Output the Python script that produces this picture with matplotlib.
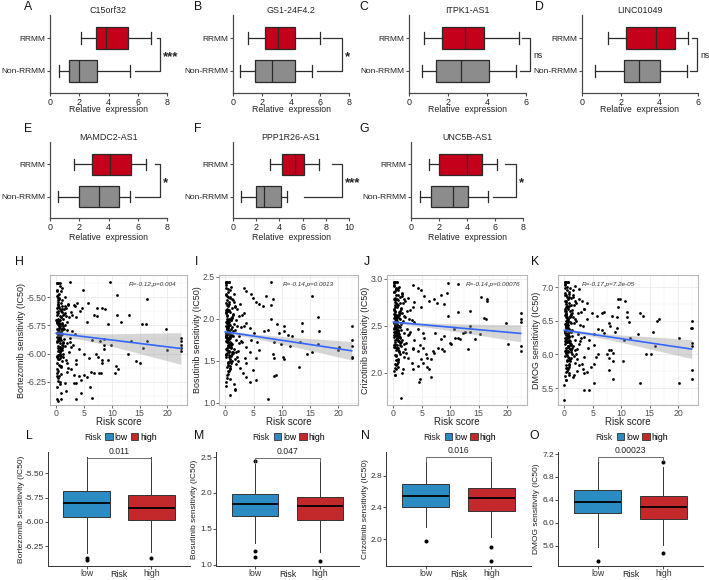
import numpy as np
import matplotlib
matplotlib.use('Agg')
import matplotlib.pyplot as plt
from matplotlib.patches import Patch
from matplotlib.ticker import MultipleLocator

plt.rcParams['font.family'] = ['Liberation Sans', 'DejaVu Sans']

# ---------------- data: panels A-G (five-number summaries) ----------------
genes = ['C15orf32', 'GS1-24F4.2', 'ITPK1-AS1', 'LINC01049',
         'MAMDC2-AS1', 'PPP1R26-AS1', 'UNC5B-AS1']
groups = ['Non-RRMM', 'RRMM']
# [whisker low, Q1, median, Q3, whisker high]
rrmm_stats = [[2.13, 3.13, 3.84, 5.33, 6.93],
              [1.04, 2.23, 3.10, 4.25, 5.98],
              [0.75, 1.68, 2.88, 3.87, 5.62],
              [1.35, 2.26, 3.81, 4.83, 5.48],
              [1.65, 2.86, 4.11, 5.56, 6.56],
              [3.16, 4.23, 5.38, 6.09, 7.39],
              [1.25, 2.01, 3.98, 5.04, 6.15]]
non_stats = [[0.62, 1.30, 2.01, 3.20, 5.44],
             [0.46, 1.54, 2.72, 4.25, 5.45],
             [0.65, 1.39, 2.66, 4.11, 5.50],
             [0.66, 2.16, 2.95, 4.02, 5.45],
             [0.57, 1.99, 3.38, 4.69, 5.44],
             [0.67, 1.96, 2.67, 4.17, 4.66],
             [0.66, 1.44, 2.98, 4.05, 5.51]]
expr_max = [8, 8, 6, 6, 8, 10, 8]
bracket_x = [7.5, 7.54, 6.22, 5.97, 7.5, 9.4, 7.53]
bracket_top_start = [7.32, 6.2, 5.8, 5.7, 7.2, 8.53, 6.7]
bracket_bot_start = [5.78, 5.82, 5.7, 5.6, 5.83, 6.09, 5.88]
signif = ['***', '*', 'ns', 'ns', '*', '***', '*']

# ---------------- data: panels H-K (scatter) ----------------
drugs = ['Bortezomib', 'Bosutinib', 'Crizotinib', 'DMOG']
risk_dense = [0.1, 0.3, 0.5, 0.2, 0.7, 0.9, 0.4, 1.1, 0.6, 0.15,
              1.3, 0.8, 0.35, 1.5, 0.25, 1.0, 0.55, 1.8, 0.45, 0.05,
              1.2, 0.65, 2.0, 0.3, 0.95, 1.6, 0.1, 0.75, 2.3, 0.5,
              1.4, 0.2, 0.85, 1.9, 0.4, 2.6, 0.6, 1.05, 0.15, 1.7,
              0.7, 2.1, 0.35, 1.25, 0.9, 2.8, 0.25, 0.55, 1.45, 3.0,
              0.45, 1.15, 0.05, 2.4, 0.8, 1.35, 0.3, 1.95, 0.65, 3.3,
              0.2, 1.55, 0.95, 0.4, 2.2, 0.1, 1.75, 0.6, 2.7, 0.5,
              1.0, 0.35, 1.65, 0.75, 3.5, 0.25, 1.2, 0.85, 2.5, 0.15,
              0.55, 1.85, 0.45, 1.1, 0.7, 2.9, 0.3, 1.4, 0.9, 0.6,
              0.2, 1.3, 0.4, 2.05, 0.8, 0.1, 1.6, 0.5, 3.2, 0.65,
              0.3, 1.05, 0.95, 2.35, 0.15, 0.75, 1.5, 0.45, 0.25, 1.9,
              0.6, 0.35, 2.65, 1.15, 0.05, 0.85, 1.7, 0.55, 3.4, 0.4]
risk_dense_b = [0.12, 0.42, 0.22, 0.62, 0.32, 0.82, 0.08, 0.52, 0.72, 0.18,
                0.38, 0.92, 0.28, 0.58, 1.02, 0.48, 0.14, 0.68, 0.34, 1.22,
                0.24, 0.78, 0.44, 0.04, 0.64, 0.88, 0.16, 0.54, 1.12, 0.36,
                0.26, 0.74, 0.46, 0.98, 0.06, 0.56, 0.84, 0.18, 0.66, 1.32,
                0.34, 0.12, 0.76, 0.44, 0.94, 0.22, 0.58, 1.08, 0.28, 0.48,
                0.86, 0.14, 0.62, 0.38, 1.18, 0.24, 0.70, 0.52, 0.96, 0.32]
bort_dense = [-5.38, -5.62, -5.85, -5.71, -5.95, -5.55, -6.05, -5.78, -5.38, -5.90,
              -5.66, -6.12, -5.81, -5.50, -5.98, -5.74, -6.20, -5.60, -5.88, -5.45,
              -5.93, -5.70, -6.08, -5.38, -5.83, -5.58, -6.30, -5.76, -5.99, -5.52,
              -5.87, -6.02, -5.68, -5.79, -6.15, -5.63, -5.91, -5.42, -5.73, -6.06,
              -5.84, -5.57, -6.24, -5.69, -5.96, -5.80, -5.38, -6.10, -5.65, -5.92,
              -5.77, -6.00, -5.49, -5.86, -6.18, -5.61, -5.89, -5.72, -6.04, -5.83,
              -6.40, -5.75, -5.97, -5.54, -6.13, -5.82, -5.67, -6.27, -5.94, -5.47,
              -5.79, -6.01, -5.64, -5.86, -6.09, -5.59, -5.76, -6.35, -5.90, -5.44,
              -5.71, -6.16, -5.81, -5.53, -5.98, -5.66, -6.22, -5.78, -5.88, -5.40,
              -5.85, -6.03, -5.74, -5.56, -6.11, -5.70, -5.93, -5.82, -6.19, -5.61,
              -5.79, -5.95, -6.07, -5.68, -5.38, -5.87, -6.26, -5.73, -5.51, -5.91,
              -6.00, -5.84, -6.14, -5.77, -5.63, -5.96, -6.33, -5.80, -5.58, -6.04]
bort_dense_b = [-5.60, -5.83, -5.72, -5.94, -5.48, -6.02, -5.66, -5.88, -5.77, -6.14,
                -5.53, -5.81, -5.69, -5.97, -5.58, -5.86, -6.08, -5.74, -5.64, -5.91,
                -5.79, -5.45, -6.01, -5.70, -5.85, -5.62, -6.20, -5.76, -5.92, -5.56,
                -5.82, -5.67, -6.05, -5.73, -5.89, -5.51, -5.96, -5.78, -6.11, -5.65,
                -5.87, -5.71, -5.99, -5.59, -5.84, -6.17, -5.75, -5.63, -5.93, -5.80,
                -5.68, -6.03, -5.86, -5.57, -5.90, -5.74, -6.25, -5.83, -5.61, -5.95]
bosu_dense = [2.44, 1.95, 1.72, 2.10, 1.60, 2.25, 1.85, 1.50, 2.44, 1.78,
              2.05, 1.40, 1.90, 2.30, 1.65, 1.98, 1.35, 2.15, 1.82, 2.40,
              1.70, 2.00, 1.55, 2.44, 1.88, 2.20, 1.25, 1.93, 1.62, 2.35,
              1.80, 1.58, 2.08, 1.75, 1.45, 2.18, 1.68, 2.38, 1.96, 1.52,
              1.86, 2.12, 1.30, 2.02, 1.66, 1.90, 2.44, 1.48, 2.22, 1.73,
              1.84, 1.60, 2.28, 1.79, 1.42, 2.06, 1.76, 1.99, 1.57, 1.91,
              1.20, 1.94, 1.69, 2.26, 1.50, 1.83, 2.14, 1.38, 1.74, 2.32,
              2.01, 1.63, 1.87, 1.77, 1.54, 2.16, 1.81, 1.28, 1.71, 2.42,
              1.97, 1.46, 1.89, 2.24, 1.67, 2.04, 1.33, 1.85, 1.72, 2.44,
              1.78, 1.59, 2.09, 1.92, 1.44, 2.19, 1.64, 1.95, 1.36, 2.11,
              1.83, 1.70, 1.56, 2.03, 2.44, 1.80, 1.22, 1.94, 2.27, 1.61,
              1.55, 1.88, 1.41, 2.13, 2.36, 1.68, 1.15, 1.90, 2.07, 1.49]
bosu_dense_b = [1.92, 1.75, 2.10, 1.62, 2.22, 1.84, 1.55, 1.98, 1.70, 2.30,
                1.88, 1.66, 2.05, 1.78, 1.48, 2.15, 1.81, 1.94, 1.59, 2.01,
                1.73, 2.26, 1.86, 1.64, 1.96, 1.52, 2.08, 1.77, 1.90, 1.43,
                1.83, 2.18, 1.68, 1.99, 1.57, 1.87, 2.34, 1.74, 1.93, 1.61,
                2.03, 1.79, 1.50, 1.91, 1.71, 2.12, 1.85, 1.65, 1.97, 1.38,
                1.82, 2.07, 1.76, 1.95, 1.58, 1.89, 2.20, 1.69, 1.80, 2.00]
criz_dense = [2.97, 2.60, 2.45, 2.75, 2.30, 2.88, 2.52, 2.20, 2.97, 2.40,
              2.68, 2.15, 2.55, 2.82, 2.35, 2.62, 2.08, 2.78, 2.48, 2.93,
              2.38, 2.70, 2.25, 2.97, 2.58, 2.85, 2.02, 2.50, 2.32, 2.90,
              2.46, 2.28, 2.72, 2.42, 2.18, 2.80, 2.36, 2.91, 2.63, 2.22,
              2.54, 2.76, 2.05, 2.66, 2.34, 2.57, 2.97, 2.24, 2.84, 2.44,
              2.51, 2.30, 2.86, 2.47, 2.12, 2.69, 2.43, 2.61, 2.27, 2.56,
              1.98, 2.64, 2.39, 2.83, 2.21, 2.53, 2.74, 2.10, 2.41, 2.89,
              2.65, 2.33, 2.55, 2.45, 2.26, 2.77, 2.49, 2.06, 2.40, 2.95,
              2.62, 2.17, 2.56, 2.81, 2.37, 2.67, 2.09, 2.52, 2.44, 2.97,
              2.48, 2.29, 2.71, 2.59, 2.14, 2.79, 2.35, 2.60, 2.11, 2.73,
              2.50, 2.38, 2.23, 2.66, 2.97, 2.46, 2.00, 2.58, 2.87, 2.31,
              2.27, 2.54, 2.16, 2.74, 2.92, 2.42, 2.04, 2.57, 2.70, 2.19]
criz_dense_b = [2.58, 2.44, 2.70, 2.36, 2.80, 2.50, 2.28, 2.62, 2.40, 2.86,
                2.54, 2.34, 2.66, 2.46, 2.22, 2.74, 2.48, 2.60, 2.31, 2.64,
                2.42, 2.83, 2.53, 2.38, 2.61, 2.26, 2.68, 2.45, 2.57, 2.19,
                2.51, 2.77, 2.39, 2.63, 2.30, 2.55, 2.90, 2.43, 2.59, 2.33,
                2.65, 2.47, 2.24, 2.56, 2.41, 2.72, 2.52, 2.37, 2.60, 2.14,
                2.49, 2.67, 2.44, 2.58, 2.32, 2.54, 2.79, 2.40, 2.50, 2.62]
dmog_dense = [7.08, 6.50, 6.25, 6.75, 6.05, 6.90, 6.38, 5.95, 7.08, 6.20,
              6.62, 5.85, 6.45, 6.95, 6.10, 6.55, 5.75, 6.80, 6.32, 7.05,
              6.15, 6.68, 6.00, 7.08, 6.48, 6.88, 5.68, 6.35, 6.08, 7.00,
              6.28, 6.02, 6.72, 6.22, 5.90, 6.82, 6.12, 6.98, 6.58, 5.98,
              6.40, 6.76, 5.80, 6.60, 6.10, 6.44, 7.08, 5.92, 6.85, 6.24,
              6.36, 6.04, 6.92, 6.30, 5.82, 6.66, 6.18, 6.52, 5.96, 6.42,
              5.62, 6.56, 6.14, 6.86, 5.94, 6.34, 6.74, 5.78, 6.20, 6.96,
              6.64, 6.06, 6.46, 6.26, 5.97, 6.78, 6.33, 5.72, 6.16, 7.03,
              6.54, 5.88, 6.41, 6.84, 6.11, 6.63, 5.74, 6.37, 6.21, 7.08,
              6.29, 6.01, 6.70, 6.49, 5.86, 6.79, 6.13, 6.51, 5.79, 6.71,
              6.39, 6.17, 5.93, 6.61, 7.08, 6.27, 5.66, 6.47, 6.89, 6.07,
              6.03, 6.43, 5.84, 6.73, 6.99, 6.19, 5.70, 6.45, 6.67, 5.99]
dmog_dense_b = [6.45, 6.25, 6.65, 6.12, 6.80, 6.38, 5.98, 6.55, 6.20, 6.88,
                6.42, 6.08, 6.60, 6.30, 5.90, 6.72, 6.35, 6.50, 6.02, 6.58,
                6.22, 6.85, 6.40, 6.15, 6.53, 5.95, 6.68, 6.28, 6.47, 5.85,
                6.36, 6.76, 6.18, 6.57, 6.05, 6.44, 6.93, 6.24, 6.52, 6.10,
                6.62, 6.32, 5.92, 6.48, 6.20, 6.70, 6.39, 6.14, 6.55, 5.80,
                6.34, 6.64, 6.26, 6.46, 6.07, 6.41, 6.82, 6.19, 6.37, 6.59]
# sparse (risk score, IC50) pairs outside the dense cluster
bort_sparse = [(2.5, -5.37), (9.6, -5.37), (4.9, -5.44), (11.0, -5.48), (16.4, -5.52),
               (5.8, -5.55), (7.4, -5.60), (8.2, -5.60), (8.7, -5.61), (6.8, -5.66),
               (7.3, -5.67), (10.9, -5.66), (13.1, -5.66), (11.7, -5.72), (9.3, -5.74),
               (15.5, -5.74), (16.1, -5.74), (19.8, -5.78), (22.4, -5.86), (22.4, -5.89),
               (22.4, -5.92), (22.4, -5.95), (22.4, -5.98), (16.3, -5.89), (13.5, -5.89),
               (8.6, -5.87), (8.6, -5.92), (8.6, -5.96), (9.85, -5.92), (7.8, -5.89),
               (6.5, -5.88), (12.9, -6.00), (15.6, -5.95), (20.0, -5.97), (14.3, -6.07),
               (15.0, -6.08), (9.4, -6.06), (8.3, -6.08), (8.3, -6.06), (10.8, -6.11),
               (11.1, -6.14), (10.6, -6.17), (6.2, -6.16), (6.8, -6.17), (7.7, -6.17),
               (8.1, -6.17), (5.0, -6.19), (5.6, -6.21), (4.1, -6.20), (4.4, -6.23),
               (3.2, -6.26), (3.5, -6.26), (6.1, -6.30), (4.4, -6.35), (6.5, -6.39),
               (3.6, -6.40), (3.5, -5.68), (4.3, -5.62), (3.2, -5.57), (3.8, -5.55),
               (4.7, -5.60), (5.6, -5.72), (4.1, -5.96), (5.0, -6.00), (5.9, -6.04),
               (3.5, -6.06), (7.2, -6.00), (7.5, -6.03), (0.9, -6.40), (0.3, -6.42)]
bosu_sparse = [(8.05, 2.44), (15.3, 2.27), (3.4, 2.37), (3.7, 2.33), (4.6, 2.29),
               (4.9, 2.25), (7.2, 2.27), (8.5, 2.24), (8.05, 2.16), (6.6, 2.15),
               (5.4, 2.20), (6.0, 2.17), (13.6, 1.95), (16.5, 2.02), (16.6, 1.86),
               (22.4, 1.92), (8.05, 2.00), (9.2, 1.94), (10.4, 1.92), (6.9, 1.85),
               (7.5, 1.87), (11.1, 1.81), (11.9, 1.80), (9.5, 1.83), (10.4, 1.85),
               (13.6, 1.86), (22.4, 1.75), (22.4, 1.68), (22.4, 1.55), (22.4, 1.53),
               (20.2, 1.67), (19.9, 1.63), (16.5, 1.70), (15.3, 1.60), (14.4, 1.58),
               (13.3, 1.72), (8.6, 1.72), (9.8, 1.70), (11.4, 1.68), (10.3, 1.55),
               (10.4, 1.52), (8.5, 1.58), (8.6, 1.54), (13.0, 1.43), (8.6, 1.32),
               (8.9, 1.33), (7.5, 1.05), (3.7, 1.95), (4.3, 1.89), (5.0, 1.83),
               (4.6, 1.75), (5.7, 1.73), (3.7, 1.67), (4.3, 1.61), (6.0, 1.63),
               (5.4, 1.53), (3.7, 1.47), (4.9, 1.39), (3.7, 1.31), (4.3, 1.25),
               (5.4, 1.27), (1.7, 1.17), (0.8, 1.10)]
criz_sparse = [(9.7, 2.95), (11.3, 2.94), (8.3, 2.83), (9.4, 2.85), (15.5, 2.81),
               (16.4, 2.79), (16.4, 2.76), (7.1, 2.78), (7.7, 2.74), (8.9, 2.73),
               (3.4, 2.93), (4.3, 2.90), (4.8, 2.88), (5.4, 2.82), (6.3, 2.76),
               (4.8, 2.70), (3.7, 2.75), (11.4, 2.65), (13.4, 2.66), (9.7, 2.60),
               (16.0, 2.58), (16.3, 2.57), (22.4, 2.64), (22.4, 2.57), (22.4, 2.54),
               (19.8, 2.53), (13.4, 2.50), (13.4, 2.44), (15.2, 2.41), (10.7, 2.47),
               (12.6, 2.44), (12.3, 2.42), (7.4, 2.42), (8.9, 2.39), (8.3, 2.36),
               (10.9, 2.37), (11.4, 2.37), (11.7, 2.36), (10.0, 2.32), (10.1, 2.31),
               (14.3, 2.36), (20.1, 2.31), (22.4, 2.29), (22.4, 2.23), (13.2, 2.25),
               (7.8, 2.27), (8.6, 2.25), (8.9, 2.23), (6.9, 2.23), (7.1, 2.21),
               (5.7, 2.20), (6.0, 2.16), (6.6, 2.15), (4.8, 2.15), (3.4, 2.04),
               (4.3, 2.07), (5.2, 2.11), (6.0, 2.06), (6.3, 2.04), (6.6, 1.96),
               (4.6, 1.94), (4.5, 1.90), (0.5, 2.04), (0.2, 1.98), (1.4, 1.73),
               (3.7, 2.54), (4.3, 2.47), (5.2, 2.42), (5.4, 2.37), (3.7, 2.35),
               (4.6, 2.30), (3.4, 2.25), (4.3, 2.23), (5.2, 2.27)]
dmog_sparse = [(9.5, 6.82), (9.8, 6.82), (10.7, 6.79), (9.5, 6.71), (11.1, 6.63),
               (6.9, 6.63), (6.6, 6.61), (8.4, 6.57), (9.2, 6.55), (13.3, 6.61),
               (13.8, 6.57), (11.0, 6.55), (11.3, 6.48), (16.3, 6.50), (16.7, 6.52),
               (22.4, 6.50), (22.4, 6.40), (22.3, 6.40), (20.1, 6.25), (15.6, 6.34),
               (13.0, 6.30), (11.6, 6.24), (10.5, 6.22), (9.2, 6.40), (8.9, 6.33),
               (7.8, 6.47), (8.1, 6.43), (6.6, 6.37), (6.9, 6.32), (8.2, 6.06),
               (7.9, 6.06), (8.6, 6.02), (7.5, 6.01), (7.8, 5.95), (8.6, 5.91),
               (10.3, 5.91), (14.4, 6.01), (15.3, 6.01), (16.0, 6.12), (22.4, 6.17),
               (22.4, 6.12), (22.4, 5.77), (22.4, 5.63), (20.1, 5.58), (13.3, 5.57),
               (7.9, 5.77), (8.5, 5.64), (5.2, 5.57), (4.3, 5.47), (3.4, 5.48),
               (3.4, 5.72), (4.0, 5.74), (4.6, 5.81), (5.2, 5.86), (3.1, 5.86),
               (2.2, 5.76), (6.0, 6.01), (5.5, 5.96), (4.2, 6.09), (5.2, 6.14),
               (3.4, 6.26), (4.3, 6.21), (5.2, 6.31), (6.0, 6.38), (4.0, 6.52),
               (4.9, 6.62), (5.8, 6.57), (3.4, 6.67), (3.1, 6.80), (4.0, 6.77),
               (2.6, 6.97), (1.8, 7.02), (0.2, 5.62), (0.8, 5.69), (0.0, 5.55),
               (0.0, 5.33)]
dense_y = [bort_dense + bort_dense_b, bosu_dense + bosu_dense_b,
           criz_dense + criz_dense_b, dmog_dense + dmog_dense_b]
risk_all_dense = risk_dense + risk_dense_b
sparse_pts = [bort_sparse, bosu_sparse, criz_sparse, dmog_sparse]
# linear fit (value at risk score 0 and at 22.4) and 95% CI half widths
fit_x = [0.0, 22.4]
fit_y = [[-5.82, -5.955], [1.845, 1.62], [2.54, 2.42], [6.36, 6.08]]
ci_x = [0, 2, 5, 10, 15, 22.4]
ci_half = [[0.028, 0.025, 0.03, 0.055, 0.09, 0.14],
           [0.022, 0.02, 0.025, 0.045, 0.07, 0.11],
           [0.018, 0.016, 0.02, 0.037, 0.058, 0.09],
           [0.028, 0.025, 0.03, 0.055, 0.09, 0.14]]
cor_text = ['R=-0.12,p=0.004', 'R=-0.14,p=0.0013', 'R=-0.14,p=0.00076', 'R=-0.17,p=7.2e-05']
scat_ylim = [(-6.455, -5.305), (0.976, 2.52), (1.66, 3.04), (5.25, 7.18)]
scat_yticks = [[-6.25, -6.0, -5.75, -5.5], [1.0, 1.5, 2.0, 2.5], [2.0, 2.5, 3.0], [5.5, 6.0, 6.5, 7.0]]
scat_fmt = ['%.2f', '%.1f', '%.1f', '%.1f']
scat_xticks = [0, 5, 10, 15, 20]

# ---------------- data: panels L-O (risk group boxplots) ----------------
risk_groups = ['low', 'high']
box_low = [[-6.32, -5.951, -5.808, -5.685, -5.34],
           [1.30, 1.68, 1.847, 1.986, 2.40],
           [2.15, 2.41, 2.55, 2.70, 2.98],
           [5.58, 6.17, 6.365, 6.575, 7.06]]
box_high = [[-6.31, -5.98, -5.859, -5.726, -5.34],
            [1.18, 1.625, 1.82, 1.944, 2.43],
            [2.03, 2.36, 2.52, 2.65, 2.98],
            [5.62, 6.07, 6.28, 6.47, 6.97]]
fliers_low = [[-6.37, -6.385], [2.44, 1.19, 1.11], [1.98], [5.34]]
fliers_high = [[-6.37], [1.055], [1.90, 1.72], [7.06, 5.48]]
pvals = ['0.011', '0.047', '0.016', '0.00023']
pbracket_y = [-5.346, 2.49, 3.04, 7.15]
box_ylim = [(-6.45, -5.285), (0.985, 2.57), (1.66, 3.10), (5.25, 7.235)]
box_yticks = [[-6.25, -6.0, -5.75, -5.5], [1.0, 1.5, 2.0, 2.5], [2.0, 2.4, 2.8], [5.6, 6.0, 6.4, 6.8, 7.2]]
box_fmt = ['%.2f', '%.1f', '%.1f', '%.1f']

# ---------------- figure ----------------
W, H = 709, 580
fig = plt.figure(figsize=(W / 100, H / 100), dpi=100)
fig.patch.set_facecolor('white')


def px_axes(x0, y0, x1, y1):
    return fig.add_axes([x0 / W, 1 - y1 / H, (x1 - x0) / W, (y1 - y0) / H])


def letter(x, y, s):
    fig.text(x / W, 1 - y / H, s, fontsize=8.8, ha='center', va='center', color='#111111')


RED = '#C4001A'
GREY = '#8C8C8C'
EDGE = '#2A2A2A'
AX = '#4A4A4A'

gene_pos = [(50, 15, 167, 93), (233, 15, 349, 93), (409, 15, 526, 93), (582, 15, 698, 93),
            (50, 142, 167, 218), (233, 142, 349, 218), (411, 142, 523, 218)]
gene_letters = [('A', 28, 7), ('B', 198, 7), ('C', 364, 7), ('D', 539, 7),
                ('E', 28, 129), ('F', 198, 129), ('G', 364, 129)]

for i, gname in enumerate(genes):
    x0, y0, x1, y1 = gene_pos[i]
    ax = px_axes(x0, y0, x1, y1)
    stats = []
    for s in (non_stats[i], rrmm_stats[i]):
        stats.append(dict(whislo=s[0], q1=s[1], med=s[2], q3=s[3], whishi=s[4]))
    b = ax.bxp(stats, positions=[1, 2], vert=False, widths=0.66, capwidths=0.36,
               showfliers=False, patch_artist=True,
               boxprops=dict(edgecolor=EDGE, linewidth=0.9),
               medianprops=dict(color=EDGE, linewidth=0.9),
               whiskerprops=dict(color=EDGE, linewidth=0.9),
               capprops=dict(color=EDGE, linewidth=0.9))
    b['boxes'][0].set_facecolor(GREY)
    b['boxes'][1].set_facecolor(RED)
    ax.set_ylim(0.33, 2.7)
    ax.set_xlim(0, expr_max[i])
    ax.set_xticks(range(0, expr_max[i] + 1, 2))
    ax.set_yticks([1, 2])
    ax.set_yticklabels(groups)
    for sp in ['top', 'right']:
        ax.spines[sp].set_visible(False)
    for sp in ['left', 'bottom']:
        ax.spines[sp].set_color(AX)
        ax.spines[sp].set_linewidth(0.9)
    ax.tick_params(axis='x', labelsize=6.4, length=2.5, width=0.8, color=AX, pad=1,
                   labelcolor='#222222')
    ax.tick_params(axis='y', labelsize=6.0, length=2.5, width=0.8, color=AX, pad=0.8,
                   labelcolor='#222222')
    ax.set_title(gname, fontsize=6.4, pad=1.5, color='#222222')
    ax.set_xlabel('Relative  expression', fontsize=6.3, color='#222222')
    ax.xaxis.set_label_coords(0.5, -(12.5 if i < 4 else 15) / (y1 - y0))
    bx = bracket_x[i]
    ax.plot([bracket_top_start[i], bx, bx, bracket_bot_start[i]], [2, 2, 1, 1],
            color='#333333', lw=0.9, clip_on=False)
    ax.annotate(signif[i], xy=(bx, 1.5), xytext=(2, -0.5 if signif[i] == 'ns' else -2),
                textcoords='offset points', ha='left', va='center',
                fontsize=6.3 if signif[i] == 'ns' else 9.5,
                fontweight='normal' if signif[i] == 'ns' else 'bold',
                color='#222222', annotation_clip=False)

for s, x, y in gene_letters:
    letter(x, y, s)

# ---------------- scatter panels ----------------
scat_pos = [(50, 275, 187, 405), (219, 275, 358, 405), (387, 275, 527, 405), (558, 275, 698, 405)]
scat_letters = [('H', 19, 262), ('I', 197, 262), ('J', 367, 262), ('K', 535, 262)]
cor_pos = [(0.75, 0.93), (0.64, 0.93), (0.76, 0.93), (0.36, 0.93)]
scat_ylab_x = [-0.175, -0.12, -0.12, -0.12]

for i, drug in enumerate(drugs):
    x0, y0, x1, y1 = scat_pos[i]
    ax = px_axes(x0, y0, x1, y1)
    ax.set_axisbelow(True)
    sx = [p[0] for p in sparse_pts[i]]
    sy = [p[1] for p in sparse_pts[i]]
    ax.scatter(risk_all_dense + sx, dense_y[i] + sy, s=4.0, c='black', linewidths=0, zorder=2)
    cx = np.array(ci_x, dtype=float)
    cy = np.interp(cx, fit_x, fit_y[i])
    hw = np.array(ci_half[i])
    ax.fill_between(cx, cy - hw, cy + hw, color='#999999', alpha=0.4, linewidth=0, zorder=3)
    ax.plot(fit_x, fit_y[i], color='#3366FF', lw=1.2, zorder=4)
    ax.set_xlim(-1.12, 23.52)
    ax.set_ylim(*scat_ylim[i])
    ax.set_xticks(scat_xticks)
    ax.xaxis.set_minor_locator(MultipleLocator(2.5))
    ax.set_yticks(scat_yticks[i])
    ax.set_yticklabels([scat_fmt[i] % v for v in scat_yticks[i]])
    step = scat_yticks[i][1] - scat_yticks[i][0]
    ax.yaxis.set_minor_locator(MultipleLocator(step / 2))
    ax.grid(which='major', color='#EBEBEB', lw=0.6)
    ax.grid(which='minor', color='#F2F2F2', lw=0.35)
    ax.tick_params(which='minor', length=0)
    ax.tick_params(which='major', labelsize=6.3, length=2, width=0.5, color='#333333',
                   labelcolor='#4D4D4D', pad=0.8)
    for sp in ax.spines.values():
        sp.set_color('#B8B8B8')
        sp.set_linewidth(0.8)
    ax.set_xlabel('Risk score', fontsize=7.0, color='#222222')
    ax.xaxis.set_label_coords(0.5, -0.092)
    ax.set_ylabel(drug + ' sensitivity (IC50)', fontsize=6.5, color='#222222')
    ax.yaxis.set_label_coords(scat_ylab_x[i], 0.5)
    ax.text(cor_pos[i][0], cor_pos[i][1], cor_text[i], transform=ax.transAxes,
            fontsize=4.6, style='italic', color='#333333', ha='center', va='center')

for s, x, y in scat_letters:
    letter(x, y, s)

# ---------------- risk boxplots ----------------
LOW = '#2B8CC4'
HIGH = '#C3282B'
box_pos = [(48, 452, 190, 566), (216, 452, 359, 566), (386, 452, 531, 566), (558, 452, 703, 566)]
box_letters = [('L', 29, 436), ('M', 199, 436), ('N', 365, 436), ('O', 534, 436)]
box_ylab_x = [-0.165, -0.125, -0.12, -0.125]

for i, drug in enumerate(drugs):
    x0, y0, x1, y1 = box_pos[i]
    ax = px_axes(x0, y0, x1, y1)
    stats = []
    for s, fl in ((box_low[i], fliers_low[i]), (box_high[i], fliers_high[i])):
        stats.append(dict(whislo=s[0], q1=s[1], med=s[2], q3=s[3], whishi=s[4], fliers=fl))
    b = ax.bxp(stats, positions=[1, 2], widths=0.72, showcaps=False, patch_artist=True,
               boxprops=dict(edgecolor='#333333', linewidth=0.7),
               medianprops=dict(color='black', linewidth=1.3),
               whiskerprops=dict(color='#333333', linewidth=0.7),
               flierprops=dict(marker='o', markerfacecolor='black', markeredgecolor='black',
                               markersize=1.9))
    b['boxes'][0].set_facecolor(LOW)
    b['boxes'][1].set_facecolor(HIGH)
    ax.set_xlim(0.4, 2.6)
    ax.set_ylim(*box_ylim[i])
    ax.set_xticks([1, 2])
    ax.set_xticklabels(risk_groups)
    ax.set_yticks(box_yticks[i])
    ax.set_yticklabels([box_fmt[i] % v for v in box_yticks[i]])
    for sp in ['top', 'right']:
        ax.spines[sp].set_visible(False)
    for sp in ['left', 'bottom']:
        ax.spines[sp].set_color('#333333')
        ax.spines[sp].set_linewidth(0.7)
    ax.tick_params(axis='y', labelsize=6.0, length=2, width=0.6, color='#333333', pad=0.8,
                   labelcolor='#333333')
    ax.tick_params(axis='x', labelsize=6.3, length=2, width=0.6, color='#333333', pad=0.5,
                   labelcolor='#333333')
    ax.set_xlabel('Risk', fontsize=6.3, color='#222222')
    ax.xaxis.set_label_coords(0.5, -0.035)
    ax.set_ylabel(drug + ' sensitivity (IC50)', fontsize=6.0, color='#222222')
    ax.yaxis.set_label_coords(box_ylab_x[i], 0.5)
    # p-value bracket
    yb = pbracket_y[i]
    drop = 0.035 * (box_ylim[i][1] - box_ylim[i][0])
    ax.plot([1, 1, 2, 2], [yb - drop, yb, yb, yb - drop], color='#555555', lw=0.6, clip_on=False)
    ax.annotate(pvals[i], xy=(1.5, yb), xytext=(0, 1.5), textcoords='offset points',
                ha='center', va='bottom', fontsize=6.2, color='#222222', annotation_clip=False)
    # legend
    bb = ax.get_position()
    cxf = (bb.x0 + bb.x1) / 2
    yl = 1 - 437 / H
    fig.text(cxf - 35 / W, yl, 'Risk', fontsize=6.3, ha='left', va='center', color='#222222')
    handles = [Patch(facecolor=LOW, edgecolor='#333333', lw=0.6),
               Patch(facecolor=HIGH, edgecolor='#333333', lw=0.6)]
    fig.legend(handles, risk_groups, loc='center left', bbox_to_anchor=(cxf - 14 / W, yl),
               ncol=2, frameon=False, fontsize=6.3, handlelength=0.9, handleheight=0.8,
               handletextpad=0.2, columnspacing=0.3, borderpad=0, borderaxespad=0)

for s, x, y in box_letters:
    letter(x, y, s)

fig.savefig('out.png', dpi=100, facecolor='white')
